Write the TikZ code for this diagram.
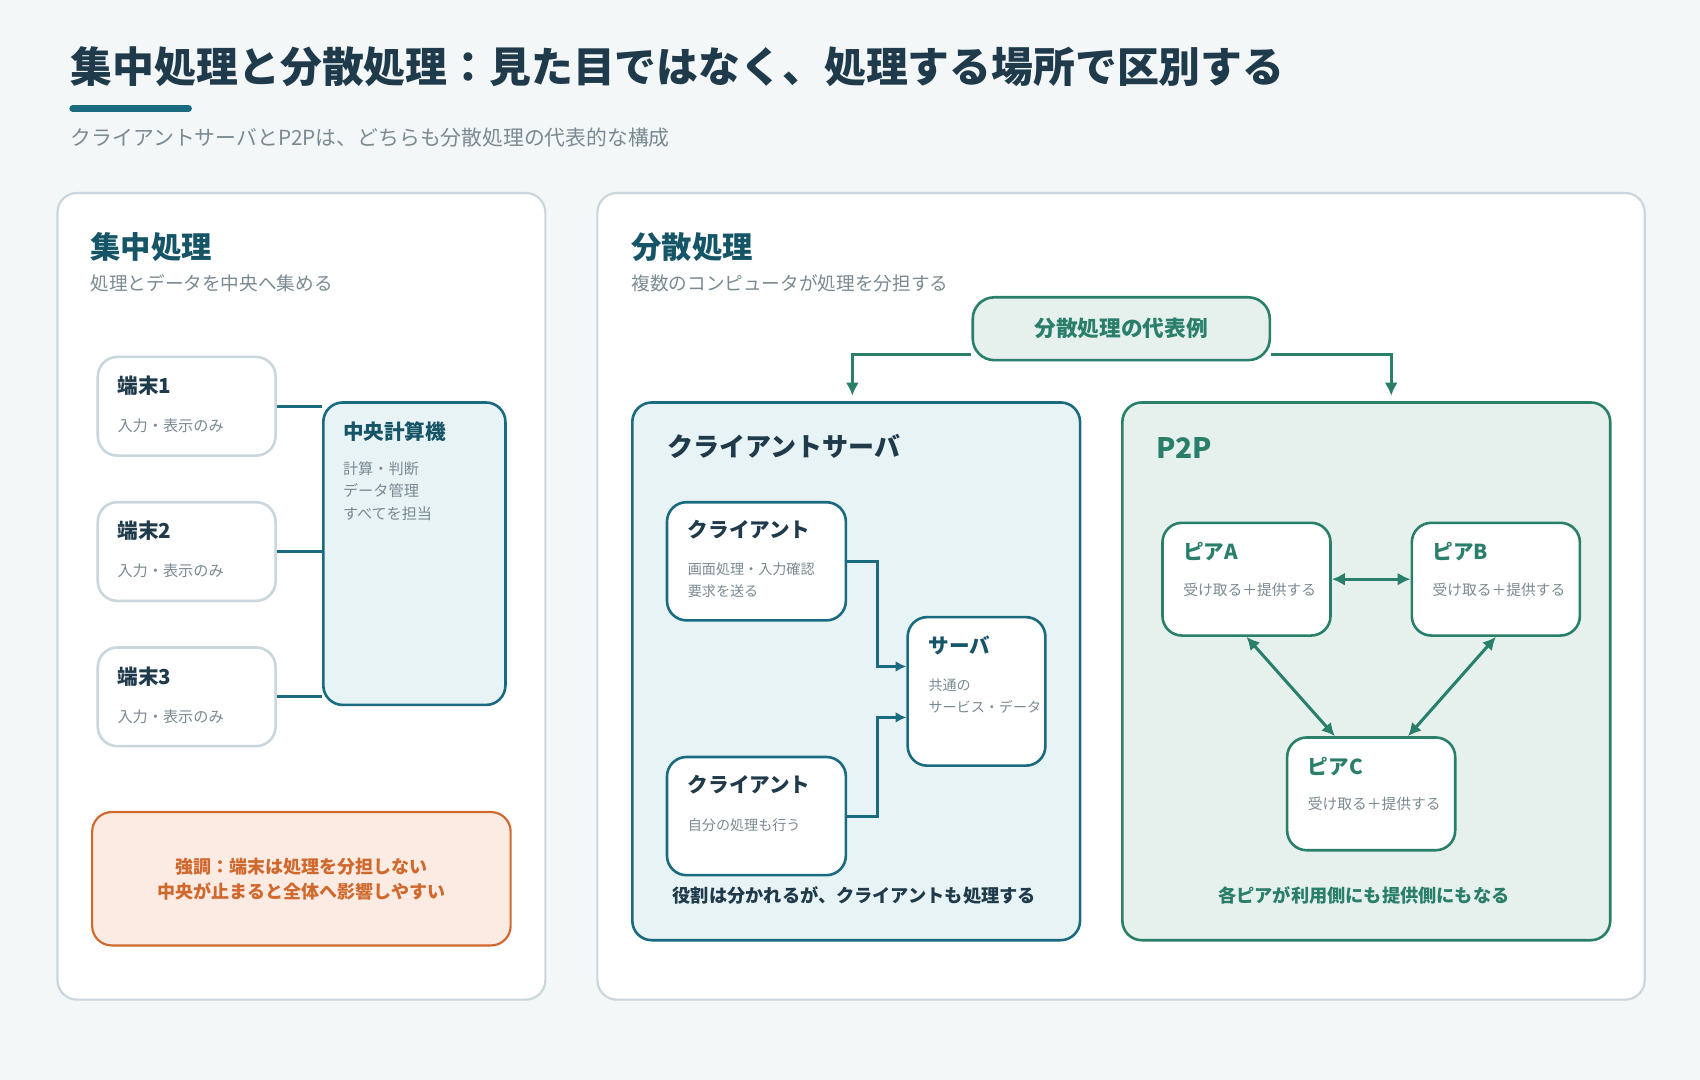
\documentclass[tikz,border=0pt]{standalone}
\usepackage{fontspec}
\setmainfont{Noto Sans CJK JP}
\usetikzlibrary{positioning, arrows.meta, calc}
\definecolor{bgc}{HTML}{F3F7F8}
\definecolor{ink}{HTML}{1F3A4A}
\definecolor{teal}{HTML}{1A6A80}
\definecolor{tealfill}{HTML}{E8F3F5}
\definecolor{grn}{HTML}{2A7F6A}
\definecolor{grnfill}{HTML}{E6F1EE}
\definecolor{soft}{HTML}{C9D6DC}
\definecolor{muted}{HTML}{7A8A92}
\definecolor{orng}{HTML}{D0692E}
\definecolor{orngfill}{HTML}{FCEBE2}
\tikzset{
    box/.style={draw, rounded corners=9pt, anchor=north west, inner sep=0pt}, % generic box
    panel/.style={box, draw=soft, line width=1pt, fill=white},
    txt/.style={anchor=base west, inner sep=0pt},
    head/.style={txt, font=\bfseries\fontsize{9.5}{11}\selectfont},
    small/.style={txt, text=muted, font=\fontsize{7}{8}\selectfont},
    flow/.style={line width=1.4pt, teal},
    gflow/.style={line width=1.4pt, grn, -{Latex[length=6pt,width=6pt]}},
}
\begin{document}
\begin{tikzpicture}[x=0.5pt, y=-0.5pt]
    \fill[bgc] (0,0) rectangle (1568,996);
    \useasboundingbox (0,0) rectangle (1568,996);
    % title
    \node[txt, text=ink, font=\bfseries\fontsize{19.3}{21}\selectfont] (title) at (65,76) {集中処理と分散処理：見た目ではなく、処理する場所で区別する};
    \draw[teal, line width=3pt, line cap=round] (67,100) -- (174,100);
    \node[txt, text=muted, font=\fontsize{9.6}{11}\selectfont] (subtitle) at (65,134) {クライアントサーバとP2Pは、どちらも分散処理の代表的な構成};
    % left panel
    \node[panel, minimum width=225pt, minimum height=372pt] (left) at (52,177) {};
    \node[txt, text=teal!80!black, font=\bfseries\fontsize{14}{16}\selectfont] (lhead) at (83,238) {集中処理};
    \node[small, font=\fontsize{8.6}{10}\selectfont] (lsub) at (83,268) {処理とデータを中央へ集める};
    \foreach \i/\y in {1/328, 2/462, 3/596} {
        \node[box, draw=soft, line width=1.2pt, fill=white, minimum width=82pt, minimum height=45.5pt] (t\i) at (89,\y) {};
        \node[head, text=ink] at (108,\y+35) {端末\i};
        \node[small] at (108,\y+70) {入力・表示のみ};
    }
    \node[box, draw=teal, line width=1.2pt, fill=tealfill, minimum width=84pt, minimum height=139.5pt] (cpu) at (297,370) {};
    \node[head, text=teal!80!black] at (316,405) {中央計算機};
    \node[small] at (316,438) {計算・判断};
    \node[small] at (316,458) {データ管理};
    \node[small] at (316,479) {すべてを担当};
    \foreach \i in {1,2,3}
        \draw[flow] (t\i.east) -- (t\i.east -| cpu.west);
    \node[box, draw=orng, line width=1pt, fill=orngfill, minimum width=193pt, minimum height=61.5pt] (note) at (84,748) {};
    \node[text=orng, align=center, font=\bfseries\fontsize{8.3}{11.5}\selectfont] at (note.center) {強調：端末は処理を分担しない\\中央が止まると全体へ影響しやすい};
    % right panel
    \node[panel, minimum width=483pt, minimum height=372pt] (right) at (550,177) {};
    \node[txt, text=teal!80!black, font=\bfseries\fontsize{14}{16}\selectfont] (rhead) at (582,238) {分散処理};
    \node[small, font=\fontsize{8.6}{10}\selectfont] (rsub) at (582,268) {複数のコンピュータが処理を分担する};
    \node[box, draw=grn, line width=1.2pt, fill=grnfill, rounded corners=10pt, minimum width=137pt, minimum height=29pt] (rep) at (896,273) {};
    \node[text=grn, font=\bfseries\fontsize{10}{11}\selectfont] at (rep.center) {分散処理の代表例};
    % client server
    \node[box, draw=teal, line width=1.2pt, fill=tealfill, minimum width=206.5pt, minimum height=248pt] (cs) at (582,370) {};
    \node[txt, text=ink, font=\bfseries\fontsize{12}{14}\selectfont] at (615,421) {クライアントサーバ};
    \node[box, draw=teal, line width=1.2pt, fill=white, minimum width=82.5pt, minimum height=54.5pt] (c1) at (614,462) {};
    \node[head, text=ink] at (634,496) {クライアント};
    \node[small, font=\fontsize{6.5}{7}\selectfont] at (634,530) {画面処理・入力確認};
    \node[small, font=\fontsize{6.5}{7}\selectfont] at (634,550) {要求を送る};
    \node[box, draw=teal, line width=1.2pt, fill=white, minimum width=82.5pt, minimum height=54.5pt] (c2) at (614,697) {};
    \node[head, text=ink] at (634,731) {クライアント};
    \node[small, font=\fontsize{6.5}{7}\selectfont] at (634,766) {自分の処理も行う};
    \node[box, draw=teal, line width=1.2pt, fill=white, minimum width=63.5pt, minimum height=68.5pt] (srv) at (836,568) {};
    \node[head, text=teal!80!black] at (856,603) {サーバ};
    \node[small, font=\fontsize{6.5}{7}\selectfont] at (856,637) {共通の};
    \node[small, font=\fontsize{6.5}{7}\selectfont] at (856,657) {サービス・データ};
    \draw[flow, -{Latex[length=5pt,width=5pt]}] (c1.east) -- ++(28,0) |- ([yshift=11.5pt]srv.west);
    \draw[flow, -{Latex[length=5pt,width=5pt]}] (c2.east) -- ++(28,0) |- ([yshift=-12pt]srv.west);
    \node[text=ink, font=\bfseries\fontsize{8.4}{9}\selectfont] at (788,826) {役割は分かれるが、クライアントも処理する};
    % p2p
    \node[box, draw=grn, line width=1.2pt, fill=grnfill, minimum width=225pt, minimum height=248pt] (p2p) at (1034,370) {};
    \node[txt, text=grn, font=\bfseries\fontsize{13}{15}\selectfont] at (1066,423) {P2P};
    \foreach \n/\l/\x/\y in {pa/A/1071/481, pb/B/1301/481, pc/C/1186/679} {
        \node[box, draw=grn, line width=1.2pt, fill=white, minimum width=77.5pt, minimum height=52pt] (\n) at (\x,\y) {};
        \node[head, text=grn] at (\x+20,\y+35) {ピア\l};
        \node[small, font=\fontsize{6.8}{7}\selectfont] at (\x+20,\y+68) {受け取る＋提供する};
    }
    \draw[gflow, {Latex[length=6pt,width=6pt]}-{Latex[length=6pt,width=6pt]}] (pa.east) -- (pb.west);
    \draw[gflow, {Latex[length=6pt,width=6pt]}-{Latex[length=6pt,width=6pt]}] (pa.south) -- ([xshift=-16.75pt]pc.north);
    \draw[gflow, {Latex[length=6pt,width=6pt]}-{Latex[length=6pt,width=6pt]}] (pb.south) -- ([xshift=17pt]pc.north);
    \node[text=grn, font=\bfseries\fontsize{8.4}{9}\selectfont] at (1258,826) {各ピアが利用側にも提供側にもなる};
    % top arrows
    \draw[gflow] ([yshift=-12pt]rep.west) -| ([yshift=2.5pt, xshift=-1.75pt]cs.north);
    \draw[gflow] ([yshift=-12pt]rep.east) -| ([yshift=2.5pt, xshift=11.5pt]p2p.north);
\end{tikzpicture}
\end{document}
